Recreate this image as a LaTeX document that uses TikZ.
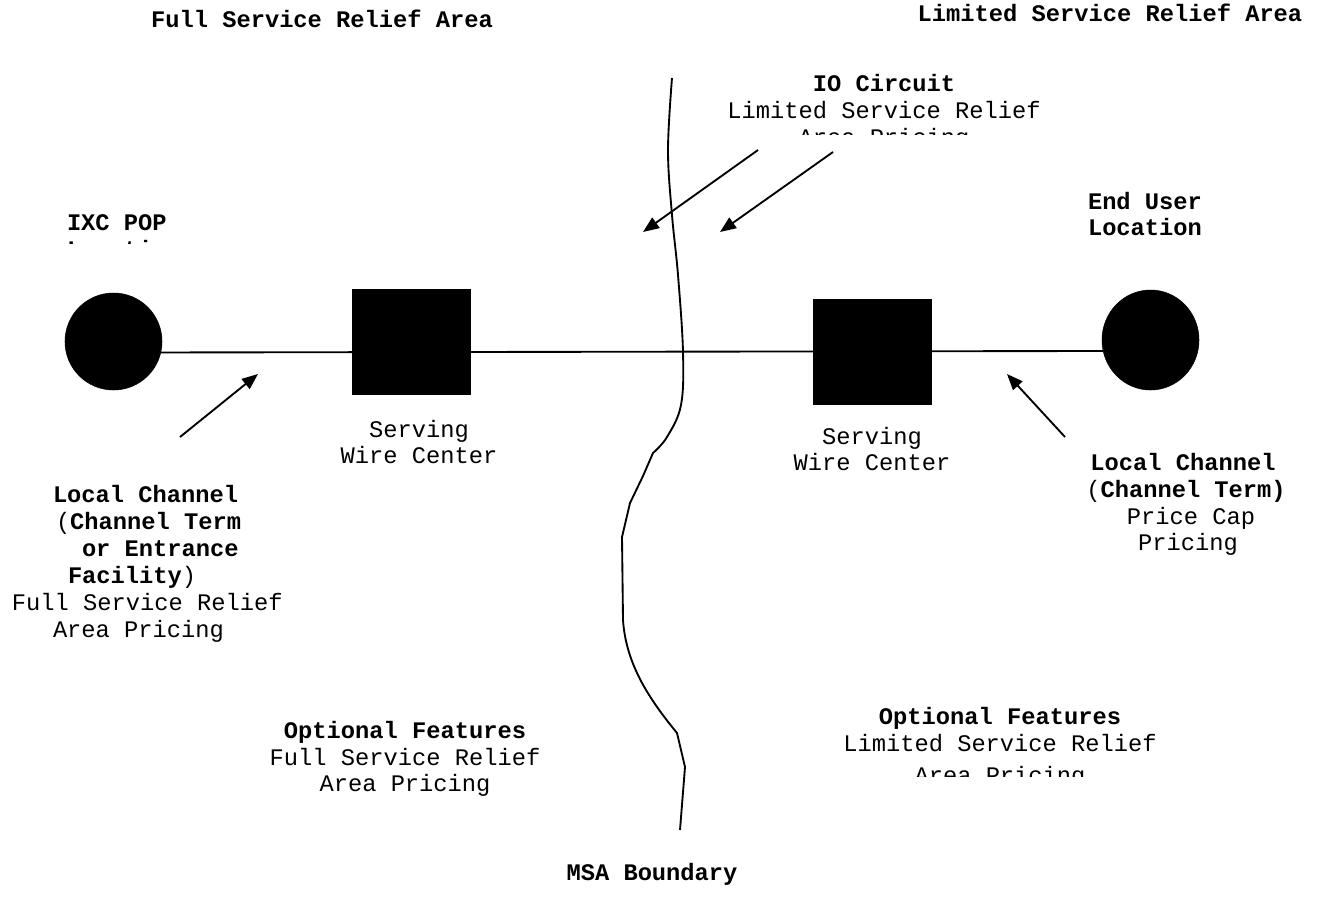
\documentclass[tikz,border=0pt]{standalone}
\usepackage{fontspec}
\newfontfamily\cour{Liberation Mono}
\usetikzlibrary{arrows.meta,shapes.geometric}
\tikzset{
  txt/.style={inner sep=0pt,outer sep=0pt,font=\cour\fontsize{17.8}{20.25}\selectfont},
  btxt/.style={txt,font=\cour\bfseries\fontsize{17.8}{20.25}\selectfont},
  dot/.style={ellipse,fill=black,draw=black,inner sep=0pt},
  box/.style={rectangle,fill=black,draw=black,inner sep=0pt,minimum width=88.5pt,minimum height=78.75pt},
  wire/.style={line width=1.4pt},
  pointer/.style={line width=1.4pt,-{Triangle[length=12pt,width=9.5pt]}},
  border/.style={line width=1.4pt}
}
\begin{document}
\begin{tikzpicture}[x=0.75pt,y=-0.75pt]
\useasboundingbox (0,0) rectangle (1320,915);
% titles
\node[btxt,anchor=base] (t1) at (322,27) {Full Service Relief Area};
\node[btxt,anchor=base] (t2) at (1110,21) {Limited Service Relief Area};
% IO circuit
\node[btxt,anchor=base] (io1) at (884,91) {IO Circuit};
\node[txt,anchor=base] (io2) at (884,118) {Limited Service Relief};
\begin{scope}
\clip (600,100) rectangle (1200,134.5);
\node[txt,anchor=base] (io3) at (884,145) {Area Pricing};
\end{scope}
% IXC POP
\node[btxt,anchor=base west] (ixc1) at (67,230) {IXC POP};
\begin{scope}
\clip (0,200) rectangle (300,243);
\node[btxt,anchor=base west] (ixc2) at (67,257) {Location};
\end{scope}
% End user
\node[btxt,anchor=base west] (eu1) at (1088,209) {End User};
\node[btxt,anchor=base west] (eu2) at (1088,235) {Location};
% wire
\node[dot,minimum width=72.75pt,minimum height=72.75pt] (cL) at (113.5,341.5) {};
\node[dot,minimum width=72.75pt,minimum height=75pt] (cR) at (1150.5,340) {};
\draw[wire] (cL.-13) -- (cR.193);
\node[box] (sL) at (411,342) {};
\node[box] (sR) at (872,351.5) {};
% serving wire center labels
\node[txt,anchor=base] (sw1) at (419,437) {Serving};
\node[txt,anchor=base] (sw2) at (419,463) {Wire Center};
\node[txt,anchor=base] (sw3) at (872,444) {Serving};
\node[txt,anchor=base] (sw4) at (872,470) {Wire Center};
% left local channel
\node[btxt,anchor=base west] (l1) at (53,502) {Local Channel};
\node[txt,anchor=base west] (l2) at (56,529) {(\textbf{Channel Term}};
\node[btxt,anchor=base west] (l3) at (82,556) {or Entrance};
\node[txt,anchor=base west] (l4) at (68,583) {\textbf{Facility})};
\node[txt,anchor=base west] (l5) at (12,610) {Full Service Relief};
\node[txt,anchor=base west] (l6) at (53,637) {Area Pricing};
% right local channel
\node[btxt,anchor=base] (r1) at (1183,470) {Local Channel};
\node[txt,anchor=base] (r2) at (1186,497) {(\textbf{Channel Term)}};
\node[txt,anchor=base] (r3) at (1191,524) {Price Cap};
\node[txt,anchor=base] (r4) at (1188,550) {Pricing};
% optional features
\node[btxt,anchor=base] (o1) at (405,738) {Optional Features};
\node[txt,anchor=base] (o2) at (405,765) {Full Service Relief};
\node[txt,anchor=base] (o3) at (405,791) {Area Pricing};
\node[btxt,anchor=base] (o4) at (1000,724) {Optional Features};
\node[txt,anchor=base] (o5) at (1000,751) {Limited Service Relief};
\begin{scope}
\clip (800,760) rectangle (1200,776);
\node[txt,anchor=base] (o6) at (1000,783) {Area Pricing};
\end{scope}
\node[btxt,anchor=base] (msa) at (652,880) {MSA Boundary};
% arrows
\coordinate (a1s) at (758,150); \coordinate (a1e) at (643,232);
\coordinate (a2s) at (833,152); \coordinate (a2e) at (720,232);
\coordinate (a3s) at (180,437); \coordinate (a3e) at (258,374);
\coordinate (a4s) at (1065,437); \coordinate (a4e) at (1007,374);
\draw[pointer] (a1s) -- (a1e);
\draw[pointer] (a2s) -- (a2e);
\draw[pointer] (a3s) -- (a3e);
\draw[pointer] (a4s) -- (a4e);
% MSA boundary
\draw[border] plot[smooth,tension=0.6] coordinates {(672,78) (668,150) (672,215) (678,275) (683,352) (681,405) (667,437) (653,453)}
  -- (643,476) -- (630,503) -- (622,537) -- (623,620)
  .. controls (626,665) and (650,700) .. (677,733) -- (685,767) -- (680,830);
\end{tikzpicture}
\end{document}
